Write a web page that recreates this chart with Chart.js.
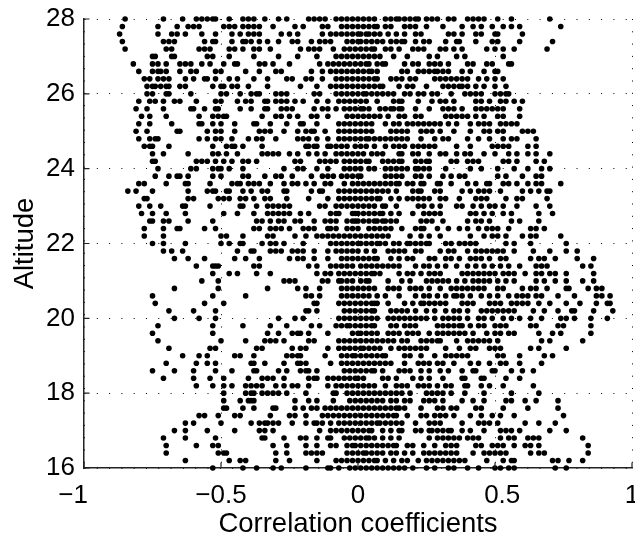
<!DOCTYPE html>
<html><head><meta charset="utf-8">
<style>html,body{margin:0;padding:0;background:#fff}#w{width:635px;height:537px;position:relative}</style>
<script src="https://cdn.jsdelivr.net/npm/chart.js@4"></script></head>
<body><div id="w"><canvas id="c" width="635" height="537"></canvas></div>
<script>
// correlation coefficients in hundredths, one list per altitude level
const a280=[-85,-71,-64,-59,-57,-55,-53,-52,-47,-42,-40,-38,-34,-29,-26,-18,-16,-14,-12,-8,-6,-4,-2,0,2,4,6,10,12,14,15,17,19,21,22,25,27,29,33,35,40,42,44,46,51,56,70];
const a278=[-86,-73,-66,-62,-60,-58,-49,-47,-45,-42,-40,-38,-36,-31,-23,-20,-13,-11,-6,-4,-2,0,2,4,6,7,10,12,17,19,21,25,31,38,42,45,49,53,56,59,74];
const a276=[-87,-73,-68,-66,-63,-57,-52,-46,-43,-40,-38,-36,-28,-25,-22,-13,-10,-8,-6,-4,-2,0,1,3,4,6,8,11,14,17,21,23,33,35,38,43,45,50,51,60];
const a274=[-86,-71,-69,-67,-56,-53,-52,-46,-42,-41,-39,-36,-33,-29,-24,-22,-17,-14,-12,-10,-4,-2,0,1,3,5,7,9,12,14,16,17,21,24,26,32,36,37,43,49,51,59,71];
const a272=[-85,-70,-68,-58,-56,-54,-47,-45,-42,-38,-36,-32,-21,-18,-16,-14,-9,-5,-3,-1,1,3,5,6,10,12,15,20,22,24,30,32,35,38,47,50,53,57,69];
const a270=[-75,-74,-68,-67,-55,-53,-47,-38,-29,-22,-15,-8,-6,-4,-2,0,2,4,6,8,13,18,26,29,36,39,53];
const a268=[-82,-75,-73,-70,-65,-63,-61,-57,-54,-49,-45,-44,-36,-34,-31,-25,-14,-11,-9,-7,-5,-3,-1,1,3,4,7,9,10,17,20,22,26,28,30,33,40,42,47,49,55,56];
const a266=[-80,-75,-73,-72,-70,-65,-61,-59,-52,-50,-41,-36,-30,-28,-17,-13,-10,-8,-6,-4,-2,0,2,4,5,7,16,18,22,24,26,28,29,31,33,38,41,46,50,51];
const a264=[-78,-76,-73,-71,-69,-63,-60,-56,-55,-52,-47,-44,-38,-33,-26,-24,-19,-17,-13,-8,-6,-4,-2,0,2,4,6,7,12,14,16,19,21,28,30,32,34,36,38,40,44,47,50,53];
const a262=[-77,-75,-74,-72,-70,-69,-65,-63,-53,-50,-49,-46,-44,-40,-33,-21,-15,-10,-8,-6,-4,-2,0,2,4,6,8,9,15,18,20,25,31,33,35,37,38,40,43,46,50,54];
const a260=[-77,-75,-70,-69,-61,-50,-48,-43,-39,-37,-36,-30,-28,-26,-16,-14,-8,-6,-4,-2,0,2,3,5,7,9,11,13,17,19,22,24,27,29,34,39,41,43,45,50,52,54,55];
const a258=[-80,-76,-74,-71,-67,-65,-59,-52,-50,-44,-41,-39,-34,-33,-30,-28,-26,-23,-20,-15,-11,-7,-5,-3,-1,1,3,7,13,15,16,22,27,30,32,35,43,45,48,52,54,57,60];
const a256=[-81,-77,-71,-61,-60,-56,-52,-51,-43,-39,-34,-33,-28,-26,-24,-16,-13,-11,-8,-5,-3,-1,1,2,4,8,10,12,13,15,16,21,26,31,33,35,38,43,45,47,49,51,53,59];
const a254=[-79,-76,-70,-58,-53,-51,-49,-48,-35,-30,-28,-25,-22,-17,-15,-11,-4,-2,0,2,4,6,8,11,15,17,21,23,32,34,36,38,40,43,46,51,53,59];
const a252=[-80,-76,-68,-58,-57,-53,-50,-45,-38,-37,-32,-26,-21,-20,-15,-7,-5,-3,-1,1,3,5,10,13,15,18,20,22,24,26,28,30,33,36,41,44,46,48,52,54,56,58];
const a250=[-81,-77,-66,-65,-55,-52,-50,-45,-36,-34,-32,-27,-22,-19,-17,-16,-12,-7,-5,-3,-1,1,3,5,12,14,16,18,23,25,27,30,35,41,46,48,51,53,60,62,64];
const a248=[-80,-76,-74,-73,-58,-55,-52,-50,-46,-40,-37,-35,-30,-22,-20,-18,-15,-11,-7,-5,-3,-1,1,3,4,6,8,10,12,14,16,18,23,28,31,33,40,44,48,53,56,58,65];
const a246=[-78,-76,-75,-69,-53,-48,-46,-45,-42,-35,-19,-18,-16,-15,-11,-10,-8,-6,-4,-1,1,3,6,10,13,15,17,20,22,24,26,28,36,41,49,51,53,55,62,65];
const a244=[-75,-71,-62,-53,-51,-48,-44,-35,-33,-31,-29,-25,-22,-18,-15,-12,-8,-6,-4,-2,0,2,5,7,9,15,16,20,22,26,30,32,36,39,41,46,50,55,58,62,65,70];
const a242=[-75,-74,-59,-57,-55,-52,-49,-46,-42,-40,-37,-23,-21,-14,-12,-10,-8,-5,-3,-1,1,3,4,9,11,13,15,16,21,23,25,26,34,36,40,42,44,53,55,58,65,68];
const a240=[-73,-61,-59,-53,-51,-50,-47,-42,-27,-22,-20,-15,-11,-5,-3,-1,1,4,6,10,12,14,16,18,21,22,24,26,32,41,45,51,57,62,67,70];
const a238=[-74,-69,-66,-65,-62,-53,-50,-42,-40,-34,-30,-28,-24,-17,-13,-11,-9,-6,-4,-2,0,1,10,12,14,16,21,23,26,31,34,37,39,51,54,60,65,67];
const a236=[-80,-78,-70,-63,-62,-54,-46,-44,-43,-40,-38,-36,-32,-27,-24,-22,-19,-16,-12,-10,-5,-2,0,2,4,6,8,10,12,14,15,18,20,23,24,29,30,34,40,43,47,48,53,55,58,62,65,67,74];
const a234=[-84,-81,-75,-62,-55,-53,-52,-48,-47,-42,-39,-35,-33,-27,-26,-17,-14,-13,-7,-5,-3,-1,1,3,5,7,9,11,14,20,22,23,28,30,38,41,44,46,48,52,60,63,66,69,70];
const a232=[-78,-77,-62,-60,-51,-49,-47,-43,-41,-38,-34,-32,-26,-18,-11,-7,-5,-3,-1,1,3,5,7,8,12,15,18,20,22,24,26,30,32,37,43,45,47,54,58,60,69];
const a230=[-80,-76,-72,-64,-63,-54,-43,-42,-37,-33,-31,-29,-27,-25,-14,-12,-8,-6,-4,-2,0,2,4,6,9,10,14,22,24,27,30,36,38,42,45,48,50,53,58,65,70];
const a228=[-79,-75,-70,-63,-49,-44,-38,-33,-31,-29,-27,-25,-21,-18,-10,-8,-7,-2,-1,0,2,4,6,8,9,12,15,20,24,26,28,30,41,43,46,49,53,56,66,71];
const a226=[-76,-75,-71,-69,-62,-53,-37,-35,-32,-29,-27,-23,-21,-16,-12,-10,-8,-4,-2,-1,0,2,4,6,7,9,10,12,14,23,25,27,31,40,43,45,48,56,59,66];
const a224=[-78,-71,-66,-65,-56,-52,-38,-36,-32,-30,-28,-25,-20,-18,-16,-11,-10,-8,-4,-2,0,4,6,8,10,12,16,21,23,24,29,33,37,40,44,47,49,51,55,63,65,68];
const a222=[-78,-71,-50,-48,-42,-33,-31,-23,-19,-15,-13,-11,-9,-7,-5,-3,-1,1,3,5,7,9,11,19,23,26,30,41,46,49,51,54,60,63,65,74];
const a220=[-75,-71,-63,-50,-47,-43,-42,-35,-32,-30,-27,-20,-10,-8,-6,-4,-2,0,1,3,5,7,8,10,13,15,18,19,21,23,25,26,32,34,37,39,41,43,54,57,63,76];
const a218=[-71,-68,-64,-44,-39,-38,-32,-30,-28,-24,-22,-20,-16,-11,-8,-6,-4,-2,0,3,6,11,13,15,17,21,23,30,33,35,40,43,45,47,49,51,53,57,64,70,76,80];
const a216=[-67,-62,-56,-45,-41,-36,-25,-22,-20,-16,-11,-6,-4,-2,0,2,4,6,7,12,15,18,20,26,28,32,34,37,41,43,45,48,52,54,63,66,68,72,80,86];
const a214=[-59,-53,-52,-51,-38,-36,-18,-15,-10,-8,-6,-4,-2,1,3,5,7,9,11,13,15,21,24,26,29,32,36,40,43,46,49,52,55,59,65,67,69,82,85];
const a212=[-53,-47,-44,-37,-32,-15,-12,-10,-7,-5,-3,-1,1,3,5,6,8,15,18,20,23,26,28,30,38,40,42,44,46,48,50,53,55,57,61,65,67,70,72,76,86];
const a210=[-57,-51,-27,-25,-23,-13,-11,-7,-6,-4,-2,1,3,4,11,16,19,25,27,29,31,33,36,39,42,44,46,48,51,54,57,65,68,72,76,82,86];
const a208=[-67,-51,-33,-22,-19,-14,-6,-4,-2,0,2,4,6,11,13,15,19,21,23,26,30,34,36,38,40,42,44,46,51,53,60,63,65,69,76,77,84,87,89];
const a206=[-75,-53,-41,-19,-17,-14,-6,-4,-2,0,2,4,7,10,15,21,24,26,29,32,35,36,38,41,45,48,51,55,58,60,62,65,67,73,79,87,89,92];
const a204=[-74,-56,-49,-16,-15,-7,-5,-3,-1,1,3,5,6,7,11,17,20,23,24,26,28,30,32,38,40,42,48,50,52,56,58,60,62,66,70,76,81,87,91,92];
const a202=[-69,-60,-52,-19,-18,-15,-5,-3,-1,1,3,5,6,12,14,16,18,21,25,28,32,35,37,40,45,47,49,51,53,55,57,64,68,73,78,79,86,93];
const a200=[-67,-58,-52,-29,-23,-20,-7,-5,-3,-1,1,3,5,7,11,13,15,17,19,21,23,25,28,31,33,35,37,40,44,46,49,53,56,59,63,67,74,76,79,85,91];
const a198=[-73,-53,-42,-32,-26,-17,-14,-8,-6,-4,-3,-1,1,3,5,6,12,14,17,19,21,29,31,33,35,37,38,41,44,46,50,52,54,63,65,73,75,85];
const a196=[-75,-53,-33,-29,-24,-22,-21,-18,-11,-2,0,1,3,5,7,11,13,15,18,20,22,26,29,31,33,35,37,39,42,47,50,52,55,57,66,71,74,85];
const a194=[-73,-50,-41,-34,-32,-30,-27,-18,-16,-7,-5,-3,-1,1,3,5,7,9,11,13,16,18,23,25,27,29,30,36,40,42,44,46,48,51,67,70,82];
const a192=[-69,-54,-52,-37,-35,-24,-21,-19,-11,-7,-5,-3,-1,1,2,4,6,8,12,15,17,19,21,23,25,32,37,41,43,48,50,52,63,66,76];
const a190=[-64,-58,-55,-45,-43,-38,-26,-24,-22,-21,-12,-6,-4,-2,-1,1,3,5,7,9,10,17,19,23,28,32,34,36,38,40,51,53,59,68,71];
const a188=[-70,-59,-55,-52,-39,-38,-34,-27,-22,-21,-19,-10,-6,-4,-2,0,2,4,6,8,10,12,17,22,24,26,29,31,35,41,44,48,52,54,59,67];
const a186=[-75,-67,-60,-52,-46,-38,-37,-29,-26,-21,-19,-18,-15,-5,-3,-1,1,3,5,6,9,15,17,19,23,26,30,33,38,42,43,49,50,56,60,64];
const a184=[-71,-60,-54,-49,-40,-35,-33,-31,-27,-18,-16,-15,-11,-9,-7,-5,-3,-1,0,2,9,11,14,20,23,26,31,38,39,45,46,54,59];
const a182=[-59,-53,-49,-46,-41,-39,-37,-35,-30,-27,-24,-22,-18,-11,-8,-6,-4,-2,0,2,4,6,10,14,16,18,22,24,26,29,32,34,39,40,45,48,53,64];
const a180=[-49,-41,-39,-38,-35,-33,-31,-29,-26,-19,-9,-8,-4,-2,0,2,4,6,8,10,12,14,16,19,25,27,29,31,34,39,46,56,66];
const a178=[-49,-43,-40,-39,-38,-23,-18,-15,-9,-3,-1,1,3,5,7,9,12,14,17,19,24,26,28,31,38,42,46,54,56,61,65,73];
const a176=[-49,-48,-42,-38,-31,-30,-23,-20,-17,-15,-12,-10,-8,-6,-4,-2,0,2,4,6,8,10,12,14,15,17,23,29,31,34,36,43,45,53,62,73];
const a174=[-58,-56,-51,-45,-43,-32,-25,-23,-19,-13,-11,-9,-7,-5,-3,-1,1,3,5,7,9,11,13,14,18,23,25,28,30,32,35,41,45,49,52,57,75];
const a172=[-63,-60,-50,-39,-36,-34,-33,-31,-29,-24,-19,-16,-15,-13,-10,-7,-5,-3,-1,1,3,5,7,8,10,12,14,16,21,26,28,30,38,44,46,48,51,61,66,72];
const a170=[-67,-63,-55,-45,-36,-34,-31,-14,-10,-8,-6,-4,-2,0,2,4,5,9,12,15,16,21,23,26,27,29,31,33,34,38,41,46,52,54,56,59,70,76];
const a168=[-71,-63,-52,-35,-34,-27,-21,-19,-15,-11,-10,-5,-3,-1,1,3,4,6,9,12,15,26,29,31,33,35,37,40,42,44,52,55,57,62,64,66,82];
const a166=[-70,-59,-53,-51,-31,-26,-19,-15,-10,-8,-4,-2,-1,1,3,5,7,9,11,13,14,18,20,24,28,32,34,36,43,45,49,51,53,57,61,63,66,84];
const a164=[-70,-51,-49,-48,-30,-26,-19,-17,-15,-13,-4,-2,0,2,3,5,7,9,12,14,17,20,24,26,28,30,32,34,36,42,46,48,50,52,54,63,66,68,84];
const a162=[-63,-47,-43,-41,-30,-25,-15,-8,-6,-4,-2,0,2,4,6,7,10,13,16,18,22,25,27,29,31,33,35,37,39,47,53,56,57,71,73,77,82];
const a160=[-53,-42,-37,-31,-28,-19,-11,-10,-7,-3,-1,1,3,5,7,9,11,13,15,17,20,25,28,33,35,40,44,50,52,55,57,72,76];

const altitudes=[28,27.8,27.6,27.4,27.2,27,26.8,26.6,26.4,26.2,26,25.8,25.6,25.4,25.2,25,24.8,24.6,24.4,24.2,24,23.8,23.6,23.4,23.2,23,22.8,22.6,22.4,22.2,22,21.8,21.6,21.4,21.2,21,20.8,20.6,20.4,20.2,20,19.8,19.6,19.4,19.2,19,18.8,18.6,18.4,18.2,18,17.8,17.6,17.4,17.2,17,16.8,16.6,16.4,16.2,16];
const levels=[a280,a278,a276,a274,a272,a270,a268,a266,a264,a262,a260,a258,a256,a254,a252,a250,a248,a246,a244,a242,a240,a238,a236,a234,a232,a230,a228,a226,a224,a222,a220,a218,a216,a214,a212,a210,a208,a206,a204,a202,a200,a198,a196,a194,a192,a190,a188,a186,a184,a182,a180,a178,a176,a174,a172,a170,a168,a166,a164,a162,a160];
const xTicks=[-1,-0.5,0,0.5,1];
const xTickLabels=['\u22121   ','\u22120.5','0','  0.5','1'];
const yTicks=[16,18,20,22,24,26,28];

const points=[];
levels.forEach((l,i)=>l.forEach(v=>points.push({x:v/100,y:altitudes[i]})));
const FONT='"Liberation Sans", Arial, sans-serif';
const innerTicks={id:'innerTicks',afterDatasetsDraw(ch){
  const g=ch.ctx,{x,y}=ch.scales,a=ch.chartArea;
  g.save();g.strokeStyle='#222';g.lineWidth=1.2;g.beginPath();
  xTicks.forEach(t=>{const p=x.getPixelForValue(t);g.moveTo(p,a.bottom);g.lineTo(p,a.bottom-5.5);});
  yTicks.forEach(t=>{const p=y.getPixelForValue(t);g.moveTo(a.left,p);g.lineTo(a.left+5.5,p);});
  g.stroke();g.restore();
}};
new Chart(document.getElementById('c'),{
  type:'scatter',
  data:{datasets:[{data:points,backgroundColor:'#000',borderWidth:0,pointRadius:2.8,pointHoverRadius:2.8,clip:false}]},
  plugins:[innerTicks],
  options:{responsive:false,animation:false,
    layout:{padding:{top:19,right:3,left:0,bottom:0}},
    plugins:{legend:{display:false},tooltip:{enabled:false}},
    scales:{
      x:{type:'linear',min:-1,max:1,
        afterFit(s){s.height=69;s.paddingLeft=0;s.paddingRight=0;},
        afterBuildTicks(s){s.ticks=xTicks.map(v=>({value:v}));},
        grid:{color:'#000',lineWidth:1,drawTicks:false},
        border:{color:'#222',width:1.5,dash:[1,11.3]},
        ticks:{color:'#000',padding:12,maxRotation:0,autoSkip:false,font:{family:FONT,size:26},
          callback:(v,i)=>xTickLabels[i]},
        title:{display:true,text:'Correlation coefficients',color:'#000',font:{family:FONT,size:27.5},padding:{top:0,bottom:-4}}},
      y:{type:'linear',min:16,max:28,
        afterFit(s){s.width=84;s.paddingTop=0;s.paddingBottom=0;},
        afterBuildTicks(s){s.ticks=yTicks.map(v=>({value:v}));},
        grid:{color:'#000',lineWidth:1,drawTicks:false},
        border:{color:'#222',width:1.5,dash:[1,11.3]},
        ticks:{color:'#000',padding:9,autoSkip:false,font:{family:FONT,size:26},callback:v=>String(v)},
        title:{display:true,text:'Altitude',color:'#000',font:{family:FONT,size:27.5},padding:{top:9,bottom:0}}}
    }
  }
});
</script></body></html>
